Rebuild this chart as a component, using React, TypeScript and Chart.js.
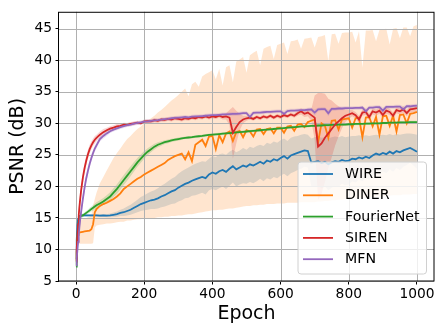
import React, { useEffect, useRef } from 'react';
import { Chart, registerables } from 'chart.js';

Chart.register(...registerables);

// ---------------- data ----------------
const EPOCHS = [
  0, 2, 4, 6, 8, 10, 12, 15, 20, 25, 30, 35, 40, 45, 50, 55, 60,
  70, 80, 90, 100, 110, 120, 130, 140, 150, 160,
  170, 180, 190, 200, 210, 220, 230, 240, 250, 260,
  270, 280, 290, 300, 310, 320, 330, 340, 350, 360,
  370, 380, 390, 400, 410, 420, 430, 440, 450, 460,
  470, 480, 490, 500, 510, 520, 530, 540, 550, 560,
  570, 580, 590, 600, 610, 620, 630, 640, 650, 660,
  670, 680, 690, 700, 710, 720, 730, 740, 750, 760,
  770, 780, 790, 800, 810, 820, 830, 840, 850, 860,
  870, 880, 890, 900, 910, 920, 930, 940, 950, 960,
  970, 980, 990, 1000,
];

const WIRE = [
  8.5, 11.5, 13.8, 14.8, 15.2, 15.3, 15.35, 15.4, 15.4, 15.4, 15.4, 15.4, 15.4, 15.4, 15.4, 15.4, 15.4,
  15.35, 15.4, 15.35, 15.4, 15.5, 15.6, 15.8, 15.9, 16.1, 16.3,
  16.6, 16.9, 17.2, 17.4, 17.6, 17.8, 17.9, 18.1, 18.4, 18.6,
  18.9, 19.2, 19.4, 19.8, 20.1, 20.4, 20.6, 20.9, 21.1, 21.3,
  21.5, 21.3, 21.9, 22.2, 22.0, 22.4, 22.6, 22.3, 22.8, 23.2,
  22.7, 23.0, 23.3, 23.1, 23.5, 23.3, 23.6, 23.9, 23.6, 24.1,
  23.9, 24.3, 24.1, 24.5, 24.8, 24.4, 24.9, 25.1, 25.3, 25.5,
  25.7, 25.6, 23.8, 23.9, 24.0, 23.7, 23.9, 23.5, 23.8, 24.0,
  23.9, 24.2, 24.0, 24.1, 24.4, 24.3, 24.6, 24.4, 24.7, 24.5,
  24.9, 25.2, 25.0, 25.3, 25.1, 25.5, 25.2, 25.6, 25.4, 25.7,
  25.9, 26.1, 25.8, 25.5,
];
const WIRE_STD = [
  0.2, 0.4, 0.4, 0.3, 0.2, 0.2, 0.2, 0.2, 0.2, 0.2, 0.2, 0.2, 0.2, 0.2, 0.2, 0.2, 0.2,
  0.2, 0.2, 0.25, 0.3, 0.35, 0.4, 0.5, 0.6, 0.7, 0.8,
  0.9, 1.0, 1.1, 1.2, 1.3, 1.4, 1.5, 1.6, 1.7, 1.8,
  1.9, 2.0, 2.1, 2.2, 2.3, 2.3, 2.4, 2.4, 2.5, 2.5,
  2.5, 2.6, 2.5, 2.6, 2.6, 2.7, 2.6, 2.7, 2.7, 2.6,
  2.7, 2.7, 2.8, 2.7, 2.8, 2.8, 2.8, 2.7, 2.8, 2.8,
  2.8, 2.8, 2.8, 2.8, 2.8, 2.8, 2.8, 2.8, 2.7, 2.7,
  2.6, 2.6, 3.8, 3.9, 3.9, 4.0, 3.9, 4.1, 4.0, 3.9,
  3.9, 3.8, 3.8, 3.8, 3.6, 3.7, 3.5, 3.6, 3.4, 3.5,
  3.2, 3.0, 3.1, 2.9, 3.0, 2.8, 2.9, 2.7, 2.8, 2.6,
  2.5, 2.3, 2.5, 2.7,
];

const DINER = [
  8.0, 9.8, 11.3, 12.3, 12.6, 12.7, 12.7, 12.75, 12.8, 12.85, 12.9, 12.95, 13.0, 13.2, 14.0, 15.9, 16.4,
  16.9, 17.2, 17.4, 17.7, 18.0, 18.4, 18.9, 19.6, 20.0, 20.4,
  20.8, 21.2, 21.5, 21.9, 22.2, 22.5, 22.8, 23.1, 23.4, 23.7,
  24.2, 24.5, 24.8, 25.0, 25.2, 24.3, 25.4, 24.0, 26.6, 27.0,
  27.4, 26.4, 27.9, 28.0, 25.9, 28.1, 27.0, 28.4, 28.7, 27.2,
  28.6, 28.8, 27.8, 28.9, 28.7, 27.9, 29.0, 29.1, 28.3, 29.1,
  29.2, 28.4, 29.3, 29.3, 28.5, 29.5, 29.6, 28.8, 29.8, 29.9,
  29.4, 30.2, 30.4, 30.6, 27.0, 30.0, 29.6, 27.7, 30.4, 30.5,
  29.0, 30.6, 30.7, 30.8, 29.3, 30.8, 30.9, 27.8, 30.9, 31.0,
  29.5, 31.0, 28.2, 31.1, 31.2, 29.6, 31.2, 28.7, 31.3, 31.4,
  30.0, 31.5, 31.6, 31.8,
];
const DINER_UPPER = [
  8.3, 10.5, 12.5, 13.8, 14.3, 14.5, 14.6, 14.7, 14.8, 14.9, 15.0, 15.1, 15.2, 15.5, 17.0, 18.0, 19.0,
  20.5, 21.5, 22.5, 23.5, 24.5, 25.3, 26.0, 26.8, 27.5, 28.0,
  28.6, 29.1, 29.5, 30.0, 30.4, 30.8, 31.2, 31.7, 32.1, 32.6,
  33.1, 33.6, 34.0, 34.5, 35.0, 35.5, 34.3, 36.2, 36.6, 35.8,
  37.4, 37.8, 38.1, 38.4, 37.0, 38.6, 36.0, 38.9, 39.2, 36.5,
  39.8, 40.1, 40.5, 38.0, 40.8, 41.2, 41.5, 39.2, 41.8, 42.1,
  42.3, 40.2, 42.4, 42.6, 42.8, 41.0, 43.0, 43.1, 43.3, 41.8,
  43.4, 43.5, 43.6, 42.0, 43.7, 43.8, 44.0, 39.8, 44.1, 44.2,
  42.6, 44.3, 44.4, 44.4, 44.5, 42.8, 44.6, 38.8, 44.7, 44.7,
  44.8, 43.0, 44.8, 44.9, 45.0, 42.5, 45.0, 45.1, 43.5, 45.2,
  45.2, 43.8, 45.4, 45.6,
];
const DINER_LOWER = [
  7.8, 9.3, 10.2, 10.6, 10.8, 10.9, 10.9, 10.9, 10.9, 10.9, 10.9, 10.9, 10.9, 10.9, 11.0, 13.5, 13.8,
  13.9, 14.0, 14.1, 14.1, 14.2, 14.3, 14.4, 14.4, 14.6, 14.6,
  14.7, 14.8, 14.8, 14.9, 14.9, 15.0, 15.0, 15.1, 15.1, 15.2,
  15.2, 15.3, 15.3, 15.4, 15.4, 15.5, 15.6, 15.6, 15.7, 15.8,
  15.9, 16.0, 16.1, 16.2, 16.2, 16.3, 16.3, 16.4, 16.5, 16.5,
  16.6, 16.7, 16.8, 16.9, 16.9, 17.0, 17.0, 17.1, 17.1, 17.2,
  17.2, 17.2, 17.3, 17.3, 17.3, 17.4, 17.4, 17.4, 17.4, 17.5,
  17.5, 17.5, 17.5, 17.5, 17.6, 17.6, 17.7, 17.7, 17.8, 17.8,
  17.9, 17.9, 18.0, 18.0, 18.1, 18.1, 18.2, 18.2, 18.2, 18.3,
  18.3, 18.4, 18.4, 18.4, 18.5, 18.5, 18.6, 18.6, 18.6, 18.7,
  18.7, 18.7, 18.8, 18.8,
];

const FOURIER = [
  7.3, 9.5, 11.8, 13.6, 14.6, 15.0, 15.2, 15.3, 15.4, 15.6, 15.8, 16.0, 16.2, 16.4, 16.6, 16.8, 17.0,
  17.3, 17.6, 18.0, 18.4, 19.0, 19.6, 20.3, 21.0, 21.7, 22.4,
  23.1, 23.8, 24.4, 25.0, 25.5, 25.9, 26.3, 26.6, 26.8, 27.0,
  27.15, 27.3, 27.4, 27.5, 27.6, 27.7, 27.75, 27.8, 27.9, 27.95,
  28.0, 28.1, 28.15, 28.2, 28.25, 28.3, 28.35, 28.4, 28.45, 28.5,
  28.55, 28.6, 28.65, 28.7, 28.75, 28.8, 28.85, 28.9, 28.95, 29.0,
  29.05, 29.1, 29.15, 29.2, 29.25, 29.3, 29.35, 29.4, 29.45, 29.5,
  29.5, 29.55, 29.6, 29.6, 29.65, 29.65, 29.7, 29.7, 29.75, 29.75,
  29.8, 29.8, 29.8, 29.85, 29.85, 29.9, 29.9, 29.9, 29.95, 29.95,
  30.0, 30.0, 30.0, 30.05, 30.05, 30.1, 30.1, 30.1, 30.15, 30.15,
  30.15, 30.2, 30.2, 30.2,
];
const FOURIER_STD = [
  0.1, 0.3, 0.5, 0.5, 0.4, 0.3, 0.3, 0.3, 0.3, 0.3, 0.3, 0.35, 0.4, 0.4, 0.45, 0.45, 0.5,
  0.5, 0.55, 0.6, 0.65, 0.7, 0.75, 0.8, 0.8, 0.8, 0.8,
  0.75, 0.7, 0.65, 0.6, 0.55, 0.5, 0.45, 0.4, 0.35, 0.3,
  0.3, 0.25, 0.25, 0.25, 0.2, 0.2, 0.2, 0.2, 0.2, 0.2,
  0.2, 0.2, 0.2, 0.2, 0.2, 0.2, 0.2, 0.2, 0.2, 0.2,
  0.2, 0.2, 0.2, 0.2, 0.2, 0.2, 0.2, 0.2, 0.2, 0.2,
  0.2, 0.2, 0.2, 0.2, 0.2, 0.2, 0.2, 0.2, 0.2, 0.2,
  0.2, 0.2, 0.2, 0.2, 0.2, 0.2, 0.2, 0.2, 0.2, 0.2,
  0.2, 0.2, 0.2, 0.2, 0.2, 0.2, 0.2, 0.2, 0.2, 0.2,
  0.2, 0.2, 0.2, 0.2, 0.2, 0.2, 0.2, 0.2, 0.2, 0.2,
  0.2, 0.2, 0.2, 0.2,
];

const SIREN = [
  8.2, 10.2, 12.2, 14.0, 15.5, 16.8, 17.9, 19.4, 21.4, 22.9, 24.1, 25.1, 25.9, 26.5, 27.0, 27.4, 27.7,
  28.2, 28.6, 28.9, 29.15, 29.3, 29.5, 29.6, 29.8, 29.75, 29.9,
  30.0, 30.1, 30.0, 30.3, 30.35, 30.3, 30.5, 30.4, 30.6, 30.55,
  30.7, 30.6, 30.8, 30.7, 30.6, 30.8, 30.7, 30.9, 30.8, 31.0,
  30.9, 31.1, 30.9, 31.1, 31.0, 31.2, 31.0, 31.1, 30.9, 28.5,
  29.4, 30.2, 30.6, 30.8, 30.9, 30.7, 31.0, 30.8, 31.1, 30.9,
  31.2, 30.9, 31.2, 31.0, 31.3, 31.1, 31.4, 31.2, 31.6, 31.9,
  31.5, 31.7, 31.3, 30.9, 26.3, 26.8, 27.7, 28.4, 29.1, 29.8,
  30.3, 30.8, 31.2, 31.4, 31.6, 31.3, 30.6, 31.7, 31.8, 31.0,
  31.9, 31.7, 32.0, 31.3, 32.0, 31.8, 31.2, 32.1, 31.9, 32.2,
  31.6, 32.2, 32.3, 32.4,
];
const SIREN_STD = [
  0.3, 0.6, 0.8, 0.9, 1.0, 1.0, 1.0, 0.9, 0.9, 0.8, 0.8, 0.7, 0.7, 0.6, 0.6, 0.6, 0.5,
  0.5, 0.5, 0.4, 0.4, 0.4, 0.4, 0.3, 0.3, 0.3, 0.3,
  0.3, 0.3, 0.3, 0.3, 0.3, 0.3, 0.3, 0.3, 0.3, 0.3,
  0.3, 0.3, 0.3, 0.3, 0.3, 0.3, 0.3, 0.3, 0.3, 0.3,
  0.3, 0.3, 0.3, 0.3, 0.3, 0.3, 0.4, 0.5, 1.2, 4.1,
  2.6, 1.3, 0.6, 0.4, 0.3, 0.3, 0.3, 0.3, 0.3, 0.3,
  0.3, 0.3, 0.3, 0.3, 0.3, 0.3, 0.3, 0.3, 0.4, 0.5,
  0.5, 0.6, 0.9, 3.5, 8.5, 8.0, 7.0, 5.5, 4.5, 3.3,
  2.4, 1.6, 1.0, 0.7, 0.5, 0.5, 0.6, 0.5, 0.5, 0.5,
  0.5, 0.5, 0.5, 0.5, 0.5, 0.5, 0.5, 0.5, 0.5, 0.5,
  0.5, 0.5, 0.5, 0.5,
];

const MFN = [
  7.5, 8.6, 9.9, 11.2, 12.4, 13.6, 14.6, 16.0, 18.0, 19.8, 21.3, 22.5, 23.6, 24.5, 25.3, 26.0, 26.5,
  27.5, 28.0, 28.4, 28.75, 29.0, 29.2, 29.4, 29.55, 29.7, 29.8,
  29.95, 30.05, 30.15, 30.25, 30.3, 30.4, 30.45, 30.5, 30.6, 30.65,
  30.7, 30.8, 30.85, 30.9, 30.95, 31.0, 30.95, 31.05, 31.1, 31.1,
  31.15, 31.2, 31.25, 31.3, 31.3, 31.35, 31.4, 31.4, 31.45, 31.5,
  31.5, 31.55, 31.6, 31.6, 31.0, 31.65, 31.7, 31.7, 31.75, 31.8,
  31.8, 31.85, 31.9, 31.9, 31.5, 31.95, 32.0, 32.0, 32.05, 32.1,
  32.1, 32.15, 32.2, 31.7, 32.2, 32.25, 32.25, 31.6, 32.3, 32.3,
  32.35, 32.35, 32.4, 32.4, 32.4, 32.45, 32.45, 32.5, 31.9, 32.5,
  32.5, 32.55, 32.55, 32.0, 32.6, 32.6, 32.6, 32.65, 32.65, 32.2,
  32.7, 32.7, 32.75, 32.8,
];
const MFN_STD = [
  0.3, 0.5, 0.7, 0.8, 0.9, 0.9, 0.9, 0.9, 0.8, 0.8, 0.7, 0.7, 0.6, 0.6, 0.5, 0.5, 0.5,
  0.4, 0.4, 0.4, 0.3, 0.3, 0.3, 0.3, 0.3, 0.3, 0.3,
  0.3, 0.3, 0.3, 0.3, 0.3, 0.3, 0.3, 0.3, 0.3, 0.3,
  0.3, 0.3, 0.3, 0.3, 0.3, 0.3, 0.3, 0.3, 0.3, 0.3,
  0.3, 0.3, 0.3, 0.3, 0.3, 0.3, 0.3, 0.3, 0.3, 0.3,
  0.3, 0.3, 0.3, 0.3, 0.5, 0.3, 0.3, 0.3, 0.3, 0.3,
  0.3, 0.3, 0.3, 0.3, 0.5, 0.3, 0.3, 0.3, 0.3, 0.3,
  0.3, 0.3, 0.3, 0.5, 0.3, 0.3, 0.3, 0.5, 0.3, 0.3,
  0.3, 0.3, 0.3, 0.3, 0.3, 0.3, 0.3, 0.3, 0.5, 0.3,
  0.3, 0.3, 0.3, 0.5, 0.3, 0.3, 0.3, 0.3, 0.3, 0.5,
  0.3, 0.3, 0.3, 0.3,
];

const X_TICKS = [0, 200, 400, 600, 800, 1000];
const Y_TICKS = [5, 10, 15, 20, 25, 30, 35, 40, 45];
const SERIES_LABELS = ['WIRE', 'DINER', 'FourierNet', 'SIREN', 'MFN'];
const X_TITLE = 'Epoch';
const Y_TITLE = 'PSNR (dB)';

// ---------------- styles ----------------
const COLORS = ['#1f77b4', '#ff7f0e', '#2ca02c', '#d62728', '#9467bd'];
const BAND_COLORS = [
  'rgba(31,119,180,0.2)',
  'rgba(255,127,14,0.2)',
  'rgba(44,160,44,0.2)',
  'rgba(214,39,40,0.2)',
  'rgba(148,103,189,0.2)',
];
const FONT = '"DejaVu Sans", "Liberation Sans", sans-serif';
const W = 448;
const H = 336;

function pts(ys: number[]) {
  return EPOCHS.map((x, i) => ({ x, y: ys[i] }));
}

export default function App() {
  const ref = useRef<HTMLCanvasElement | null>(null);

  useEffect(() => {
    if (!ref.current) return;
    const means = [WIRE, DINER, FOURIER, SIREN, MFN];
    const uppers = [
      WIRE.map((v, i) => v + WIRE_STD[i]),
      DINER_UPPER,
      FOURIER.map((v, i) => v + FOURIER_STD[i]),
      SIREN.map((v, i) => v + SIREN_STD[i]),
      MFN.map((v, i) => v + MFN_STD[i]),
    ];
    const lowers = [
      WIRE.map((v, i) => v - WIRE_STD[i]),
      DINER_LOWER,
      FOURIER.map((v, i) => v - FOURIER_STD[i]),
      SIREN.map((v, i) => v - SIREN_STD[i]),
      MFN.map((v, i) => v - MFN_STD[i]),
    ];
    const n = means.length;
    const datasets: any[] = [];
    // line datasets: index 0 drawn last (on top) -> MFN first
    for (let k = n - 1; k >= 0; k--) {
      datasets.push({
        label: SERIES_LABELS[k],
        data: pts(means[k]),
        borderColor: COLORS[k],
        borderWidth: 1.8,
        pointRadius: 0,
        fill: false,
        tension: 0,
      });
    }
    const firstLineDrawn = n - 1; // WIRE line, first line to be painted
    for (let k = n - 1; k >= 0; k--) {
      const upperIndex = datasets.length;
      datasets.push({
        label: SERIES_LABELS[k] + ' upper',
        data: pts(uppers[k]),
        borderColor: 'rgba(0,0,0,0)',
        borderWidth: 0,
        backgroundColor: BAND_COLORS[k],
        pointRadius: 0,
        fill: upperIndex + 1,
        tension: 0,
      });
      datasets.push({
        label: SERIES_LABELS[k] + ' lower',
        data: pts(lowers[k]),
        borderColor: 'rgba(0,0,0,0)',
        borderWidth: 0,
        pointRadius: 0,
        fill: false,
        tension: 0,
      });
    }

    const gridPlugin = {
      id: 'mplGrid',
      beforeDatasetDraw(chart: any, args: any) {
        if (args.index !== firstLineDrawn) return;
        const { ctx, chartArea: a, scales } = chart;
        ctx.save();
        ctx.strokeStyle = '#b0b0b0';
        ctx.lineWidth = 1;
        ctx.beginPath();
        for (const v of X_TICKS) {
          const x = Math.round(scales.x.getPixelForValue(v)) + 0.5;
          ctx.moveTo(x, a.top);
          ctx.lineTo(x, a.bottom);
        }
        for (const v of Y_TICKS) {
          const y = Math.round(scales.y.getPixelForValue(v)) + 0.5;
          ctx.moveTo(a.left, y);
          ctx.lineTo(a.right, y);
        }
        ctx.stroke();
        ctx.restore();
      },
    };

    const framePlugin = {
      id: 'mplFrame',
      afterDraw(chart: any) {
        const { ctx, chartArea: a } = chart;
        ctx.save();
        // spines
        ctx.strokeStyle = '#000';
        ctx.lineWidth = 1;
        ctx.strokeRect(a.left - 0.5, a.top + 0.5, a.right - a.left + 0.5, a.bottom - a.top - 0.5);
        // legend
        const bw = 128.5;
        const bh = 112;
        const bx = a.right - 7.5 - bw;
        const by = a.bottom - 7 - bh;
        const r = 3;
        ctx.beginPath();
        ctx.moveTo(bx + r, by);
        ctx.lineTo(bx + bw - r, by);
        ctx.quadraticCurveTo(bx + bw, by, bx + bw, by + r);
        ctx.lineTo(bx + bw, by + bh - r);
        ctx.quadraticCurveTo(bx + bw, by + bh, bx + bw - r, by + bh);
        ctx.lineTo(bx + r, by + bh);
        ctx.quadraticCurveTo(bx, by + bh, bx, by + bh - r);
        ctx.lineTo(bx, by + r);
        ctx.quadraticCurveTo(bx, by, bx + r, by);
        ctx.closePath();
        ctx.fillStyle = 'rgba(255,255,255,0.8)';
        ctx.fill();
        ctx.strokeStyle = '#d0d0d0';
        ctx.lineWidth = 1;
        ctx.stroke();
        ctx.font = `14.2px ${FONT}`;
        ctx.textBaseline = 'middle';
        ctx.textAlign = 'left';
        for (let i = 0; i < SERIES_LABELS.length; i++) {
          const y = by + 12 + i * 21.3;
          ctx.strokeStyle = COLORS[i];
          ctx.lineWidth = 1.8;
          ctx.beginPath();
          ctx.moveTo(bx + 5, y);
          ctx.lineTo(bx + 35, y);
          ctx.stroke();
          ctx.fillStyle = '#000';
          ctx.fillText(SERIES_LABELS[i], bx + 47, y + 0.5);
        }
        ctx.restore();
      },
    };

    const tickFont = { family: FONT, size: 13.8 };
    const titleFont = { family: FONT, size: 19 };

    const chart = new Chart(ref.current, {
      type: 'line',
      data: { datasets },
      options: {
        responsive: false,
        animation: false,
        devicePixelRatio: 1,
        parsing: false,
        normalized: true,
        events: [],
        layout: { padding: { left: 0, top: 10, right: 14, bottom: 0 } },
        plugins: {
          legend: { display: false },
          tooltip: { enabled: false },
        },
        scales: {
          x: {
            type: 'linear',
            min: -50,
            max: 1050,
            afterBuildTicks: (s: any) => {
              s.ticks = X_TICKS.map((v) => ({ value: v }));
            },
            afterFit: (s: any) => {
              s.height = 55;
            },
            ticks: {
              font: tickFont,
              color: '#000',
              padding: 1.7,
              maxRotation: 0,
              autoSkip: false,
              callback: (v: any) => String(v),
            },
            grid: {
              display: true,
              drawOnChartArea: false,
              drawTicks: true,
              tickLength: 3.5,
              tickColor: '#000',
              tickWidth: 1,
            },
            border: { display: false },
            title: {
              display: true,
              text: X_TITLE,
              font: titleFont,
              color: '#000',
              padding: { top: 0, bottom: 11 },
            },
          },
          y: {
            type: 'linear',
            min: 5,
            max: 47.68,
            afterBuildTicks: (s: any) => {
              s.ticks = Y_TICKS.map((v) => ({ value: v }));
            },
            afterFit: (s: any) => {
              s.width = 59;
            },
            ticks: {
              font: tickFont,
              color: '#000',
              padding: 3.5,
              autoSkip: false,
              callback: (v: any) => String(v),
            },
            grid: {
              display: true,
              drawOnChartArea: false,
              drawTicks: true,
              tickLength: 3.5,
              tickColor: '#000',
              tickWidth: 1,
            },
            border: { display: false },
            title: {
              display: true,
              text: Y_TITLE,
              font: titleFont,
              color: '#000',
              padding: { top: 6.9, bottom: 0 },
            },
          },
        },
      },
      plugins: [gridPlugin, framePlugin],
    } as any);

    return () => chart.destroy();
  }, []);

  return (
    <canvas
      ref={ref}
      width={W}
      height={H}
      style={{ position: 'absolute', left: 0, top: 0, width: W, height: H, display: 'block' }}
    />
  );
}
